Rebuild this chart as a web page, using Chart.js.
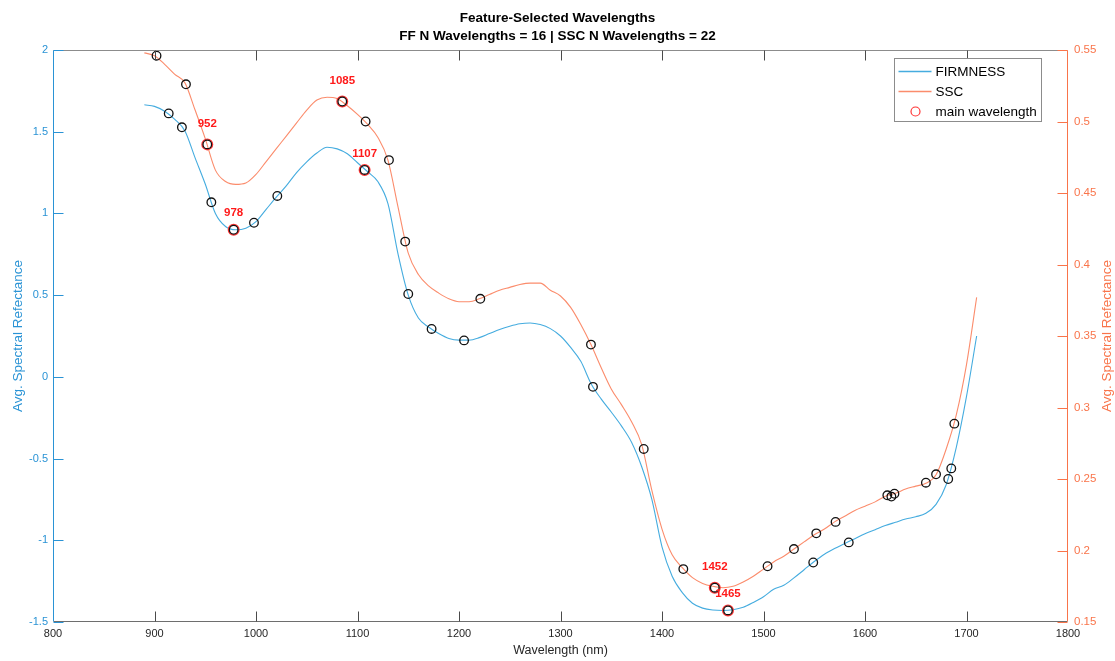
<!DOCTYPE html>
<html>
<head>
<meta charset="utf-8">
<script src="https://cdn.jsdelivr.net/npm/chart.js@4.4.1/dist/chart.umd.min.js"></script>
<style>
html, body { margin: 0; padding: 0; background: #fff; }
#wrap { width: 1115px; height: 661px; }
</style>
</head>
<body>
<div id="wrap"><canvas id="mycanvas"></canvas></div>
<script>
// wavelength grid (nm) and average spectra
var wavelengths = [890, 900, 910, 920, 930, 940, 950, 960, 970, 980, 990, 1000, 1010, 1020, 1030, 1040, 1050, 1060, 1070, 1080,
  1090, 1100, 1110, 1120, 1130, 1140, 1150, 1160, 1170, 1180, 1190, 1200, 1210, 1220, 1230, 1240, 1250, 1260, 1270, 1280,
  1290, 1300, 1310, 1320, 1330, 1340, 1350, 1360, 1370, 1380, 1390, 1400, 1410, 1420, 1430, 1440, 1450, 1460, 1470, 1480,
  1490, 1500, 1510, 1520, 1530, 1540, 1550, 1560, 1570, 1580, 1590, 1600, 1610, 1620, 1630, 1640, 1650, 1660, 1670, 1680,
  1690, 1700, 1710];
var firmness = [1.665, 1.655, 1.625, 1.575, 1.505, 1.34, 1.18, 1.00, 0.92, 0.90, 0.91, 0.95, 1.025, 1.10, 1.17, 1.25, 1.316, 1.37, 1.405, 1.395,
  1.365, 1.31, 1.255, 1.195, 1.06, 0.75, 0.50, 0.36, 0.305, 0.265, 0.235, 0.225, 0.225, 0.24, 0.265, 0.29, 0.31, 0.325, 0.33, 0.32,
  0.295, 0.25, 0.18, 0.095, -0.04, -0.135, -0.215, -0.30, -0.40, -0.55, -0.75, -1.04, -1.22, -1.32, -1.385, -1.415, -1.427, -1.43, -1.425, -1.41,
  -1.38, -1.345, -1.30, -1.275, -1.23, -1.18, -1.13, -1.085, -1.05, -1.02, -0.99, -0.96, -0.935, -0.91, -0.89, -0.87, -0.856, -0.835, -0.78, -0.66,
  -0.43, -0.12, 0.25];
var ssc = [0.548, 0.546, 0.540, 0.533, 0.527, 0.508, 0.488, 0.466, 0.458, 0.456, 0.457, 0.463, 0.472, 0.481, 0.490, 0.499, 0.508, 0.515, 0.517, 0.516,
  0.511, 0.505, 0.498, 0.489, 0.473, 0.440, 0.408, 0.393, 0.385, 0.380, 0.376, 0.374, 0.374, 0.376, 0.379, 0.382, 0.384, 0.386, 0.387, 0.387,
  0.382, 0.378, 0.370, 0.358, 0.344, 0.328, 0.313, 0.302, 0.290, 0.274, 0.242, 0.215, 0.197, 0.188, 0.181, 0.177, 0.175, 0.174, 0.175, 0.178,
  0.182, 0.187, 0.192, 0.196, 0.201, 0.206, 0.211, 0.215, 0.220, 0.224, 0.228, 0.231, 0.234, 0.238, 0.240, 0.243, 0.245, 0.247, 0.253, 0.271,
  0.295, 0.33, 0.377];

// selected wavelengths (black circles)
var ffSelWl = [914, 927, 956, 978, 998, 1021, 1107, 1150, 1173, 1205, 1332, 1465, 1549, 1584, 1682, 1685];
var ffSelVal = [1.612, 1.527, 1.068, 0.900, 0.943, 1.107, 1.266, 0.507, 0.293, 0.223, -0.061, -1.429, -1.136, -1.013, -0.625, -0.560];
var sscSelWl = [902, 931, 952, 1085, 1108, 1131, 1147, 1221, 1330, 1382, 1421, 1452, 1504, 1530, 1552, 1571, 1622, 1626, 1629, 1660, 1670, 1688];
var sscSelVal = [0.546, 0.526, 0.484, 0.514, 0.500, 0.473, 0.416, 0.376, 0.344, 0.271, 0.187, 0.174, 0.189, 0.201, 0.212, 0.220, 0.2386, 0.2377, 0.2397, 0.2474, 0.2533, 0.2887];

// main wavelengths (red circles + labels)
var ffMain = [978, 1107, 1465];
var sscMain = [952, 1085, 1452];

var xTicks = [800, 900, 1000, 1100, 1200, 1300, 1400, 1500, 1600, 1700, 1800];
var xTickLabels = ['800', '900', '1000', '1100', '1200', '1300', '1400', '1500', '1600', '1700', '1800'];
var leftTicks = [-1.5, -1, -0.5, 0, 0.5, 1, 1.5, 2];
var leftTickLabels = ['-1.5', '-1', '-0.5', '0', '0.5', '1', '1.5', '2'];
var rightTicks = [0.15, 0.2, 0.25, 0.3, 0.35, 0.4, 0.45, 0.5, 0.55];
var rightTickLabels = ['0.15', '0.2', '0.25', '0.3', '0.35', '0.4', '0.45', '0.5', '0.55'];

var blueLine = '#45ACDF', blueAxis = '#2A93D5';
var orangeLine = '#FB8C6C', orangeAxis = '#F9744A';
var redMark = '#FF3434';

Chart.defaults.font.family = "'Liberation Sans', Arial, sans-serif";

function pts(xs, ys) {
  var out = [];
  for (var i = 0; i < xs.length; i++) out.push({x: xs[i], y: ys[i]});
  return out;
}
function mainPts(mainWl, selWl, selVal) {
  return mainWl.map(function (w) { return {x: w, y: selVal[selWl.indexOf(w)]}; });
}

var framePlugin = {
  id: 'frame',
  afterDraw: function (chart) {
    var ctx = chart.ctx, a = chart.chartArea;
    var sx = chart.scales.x, sy = chart.scales.y, sy1 = chart.scales.y1;
    function ln(x1, y1, x2, y2) { ctx.beginPath(); ctx.moveTo(x1, y1); ctx.lineTo(x2, y2); ctx.stroke(); }
    var L = Math.round(a.left) + 0.5, R = Math.round(a.right) - 0.5, T = Math.round(a.top) + 0.5, B = Math.round(a.bottom) - 0.5;
    ctx.save();
    ctx.lineWidth = 1;
    ctx.strokeStyle = '#8c8c8c';
    ln(L, T, R, T);
    ctx.strokeStyle = '#6e6e6e';
    ln(L, B, R, B);
    ctx.strokeStyle = '#4a4a4a';
    xTicks.forEach(function (v) {
      if (v === xTicks[0] || v === xTicks[xTicks.length - 1]) return;
      var px = Math.round(sx.getPixelForValue(v)) + 0.5;
      ln(px, B, px, B - 10);
      ln(px, T, px, T + 10);
    });
    ctx.strokeStyle = blueAxis;
    ln(L, T, L, B);
    leftTicks.forEach(function (v) {
      var py = Math.round(sy.getPixelForValue(v)) + 0.5;
      ln(L, py, L + 10, py);
    });
    ctx.strokeStyle = orangeAxis;
    ln(R, T, R, B);
    rightTicks.forEach(function (v) {
      var py = Math.round(sy1.getPixelForValue(v)) + 0.5;
      ln(R, py, R - 10, py);
    });
    // right axis title, reading bottom to top like the left one
    ctx.translate(1107, (a.top + a.bottom) / 2);
    ctx.rotate(-Math.PI / 2);
    ctx.fillStyle = orangeAxis;
    ctx.font = "13.5px 'Liberation Sans', Arial, sans-serif";
    ctx.textAlign = 'center';
    ctx.textBaseline = 'middle';
    ctx.fillText('Avg. Spectral Refectance', 0, 0);
    ctx.restore();

    // legend box
    var bx = Math.round(a.right) - 174 + 0.5, by = Math.round(a.top) + 8 + 0.5, bw = 147, bh = 63;
    ctx.save();
    ctx.fillStyle = '#fff';
    ctx.fillRect(bx, by, bw, bh);
    ctx.strokeStyle = '#8c8c8c';
    ctx.lineWidth = 1;
    ctx.strokeRect(bx, by, bw, bh);
    var items = [
      {label: chart.data.datasets[4].label, kind: 'line', color: blueLine},
      {label: chart.data.datasets[5].label, kind: 'line', color: orangeLine},
      {label: chart.data.datasets[2].label, kind: 'circle', color: redMark}
    ];
    ctx.font = "13.5px 'Liberation Sans', Arial, sans-serif";
    ctx.textAlign = 'left';
    ctx.textBaseline = 'middle';
    items.forEach(function (it, i) {
      var ry = by + 13 + i * 20;
      ctx.strokeStyle = it.color;
      if (it.kind === 'line') {
        ctx.lineWidth = 1.3;
        ln(bx + 4, ry, bx + 37, ry);
      } else {
        ctx.lineWidth = 1.2;
        ctx.beginPath();
        ctx.arc(bx + 21, ry, 4.5, 0, Math.PI * 2);
        ctx.stroke();
      }
      ctx.fillStyle = '#000';
      ctx.fillText(it.label, bx + 41, ry + 0.5);
    });
    ctx.restore();
  },
  afterDatasetsDraw: function (chart) {
    var ctx = chart.ctx;
    ctx.save();
    ctx.fillStyle = '#FF1A1A';
    ctx.font = "bold 11.5px 'Liberation Sans', Arial, sans-serif";
    ctx.textAlign = 'center';
    ctx.textBaseline = 'middle';
    [[2, ffMain, 16.5], [3, sscMain, 21]].forEach(function (d) {
      var meta = chart.getDatasetMeta(d[0]);
      meta.data.forEach(function (el, i) {
        ctx.fillText(String(d[1][i]), el.x, el.y - d[2]);
      });
    });
    ctx.restore();
  }
};

var ctx = document.getElementById('mycanvas');

var chart = new Chart(ctx, {
  type: 'line',
  data: {
    datasets: [
      {
        label: 'FF selected', data: pts(ffSelWl, ffSelVal), yAxisID: 'y', showLine: false,
        pointRadius: 4.3, pointBorderWidth: 1.3, pointBorderColor: '#111', pointBackgroundColor: 'rgba(0,0,0,0)', order: 1
      },
      {
        label: 'SSC selected', data: pts(sscSelWl, sscSelVal), yAxisID: 'y1', showLine: false,
        pointRadius: 4.3, pointBorderWidth: 1.3, pointBorderColor: '#111', pointBackgroundColor: 'rgba(0,0,0,0)', order: 1
      },
      {
        label: 'main wavelength', data: mainPts(ffMain, ffSelWl, ffSelVal), yAxisID: 'y', showLine: false,
        pointRadius: 5.3, pointBorderWidth: 1.4, pointBorderColor: redMark, pointBackgroundColor: 'rgba(0,0,0,0)', order: 2
      },
      {
        label: 'main wavelength', data: mainPts(sscMain, sscSelWl, sscSelVal), yAxisID: 'y1', showLine: false,
        pointRadius: 5.3, pointBorderWidth: 1.4, pointBorderColor: redMark, pointBackgroundColor: 'rgba(0,0,0,0)', order: 2
      },
      {
        label: 'FIRMNESS', data: pts(wavelengths, firmness), yAxisID: 'y',
        borderColor: blueLine, borderWidth: 1.1, pointRadius: 0, cubicInterpolationMode: 'monotone', fill: false, order: 3
      },
      {
        label: 'SSC', data: pts(wavelengths, ssc), yAxisID: 'y1',
        borderColor: orangeLine, borderWidth: 1.1, pointRadius: 0, cubicInterpolationMode: 'monotone', fill: false, order: 3
      }
    ]
  },
  options: {
    responsive: true,
    maintainAspectRatio: false,
    animation: false,
    layout: { padding: 0 },
    plugins: {
      legend: { display: false },
      tooltip: { enabled: false },
      title: {
        display: true,
        text: ['Feature-Selected Wavelengths', 'FF N Wavelengths = 16 | SSC N Wavelengths = 22'],
        color: '#000',
        font: { size: 13.5, weight: 'bold', lineHeight: 1.3 },
        padding: { top: 10, bottom: 4.9 }
      }
    },
    scales: {
      x: {
        type: 'linear', min: 800, max: 1800,
        afterBuildTicks: function (s) { s.ticks = xTicks.map(function (v) { return {value: v}; }); },
        afterFit: function (s) { s.height = 39; },
        grid: { display: true, drawOnChartArea: false, drawTicks: false },
        border: { display: false },
        ticks: {
          color: '#262626', font: { size: 11 }, padding: 5, maxRotation: 0, autoSkip: false,
          callback: function (v) { return xTickLabels[xTicks.indexOf(v)]; }
        },
        title: { display: true, text: 'Wavelength (nm)', color: '#262626', font: { size: 12.5 }, padding: { top: 0, bottom: 2.5 } }
      },
      y: {
        type: 'linear', position: 'left', min: -1.5, max: 2,
        afterBuildTicks: function (s) { s.ticks = leftTicks.map(function (v) { return {value: v}; }); },
        afterFit: function (s) { s.width = 53; },
        grid: { display: true, drawOnChartArea: false, drawTicks: false },
        border: { display: false },
        ticks: {
          color: blueAxis, font: { size: 11 }, padding: 5,
          callback: function (v) { return leftTickLabels[leftTicks.indexOf(v)]; }
        },
        title: { display: true, text: 'Avg. Spectral Refectance', color: blueAxis, font: { size: 13.5 }, padding: { top: 10, bottom: 0 } }
      },
      y1: {
        type: 'linear', position: 'right', min: 0.15, max: 0.55,
        afterBuildTicks: function (s) { s.ticks = rightTicks.map(function (v) { return {value: v}; }); },
        afterFit: function (s) { s.width = 47; },
        grid: { display: true, drawOnChartArea: false, drawTicks: false },
        border: { display: false },
        ticks: {
          color: orangeAxis, font: { size: 11.5 }, padding: 6,
          callback: function (v) { return rightTickLabels[rightTicks.indexOf(v)]; }
        }
      }
    }
  },
  plugins: [framePlugin]
});
</script>
</body>
</html>
